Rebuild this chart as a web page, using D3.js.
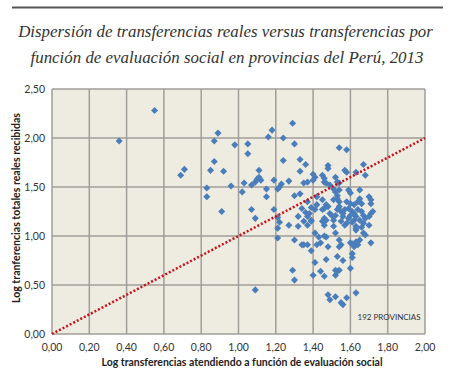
<!DOCTYPE html>
<html>
<head>
<meta charset="utf-8">
<script src="https://cdn.jsdelivr.net/npm/d3@7"></script>
<style>
  body { margin: 0; background: #fff; }
  .tick_label { font-family: Lato, "Open Sans", sans-serif; font-size: 10.5px; fill: #333; }
  .axis_title { font-family: Lato, "Open Sans", sans-serif; font-weight: bold; font-size: 11px; fill: #222; }
  .chart_title { font-family: "Liberation Serif", "DejaVu Serif", serif; font-style: italic; fill: #333; }
</style>
</head>
<body>
<div id="chart"></div>
<script>
// Log transferencias atendiendo a funcion de evaluacion social (x)
var logAtendido = [
  0.36, 0.55, 0.69, 0.71, 0.83, 0.83, 0.85, 0.87, 0.87, 0.89,
  0.91, 0.92, 0.96, 0.98, 1.02, 1.03, 1.05, 1.05, 1.07, 1.07,
  1.09, 1.09, 1.09, 1.10, 1.11, 1.12, 1.11, 1.15, 1.15, 1.16,
  1.18, 1.19, 1.19, 1.21, 1.21, 1.21, 1.24, 1.24, 1.29, 1.30,
  1.22, 1.23, 1.27, 1.27, 1.21, 1.22, 1.30, 1.29, 1.30, 1.33,
  1.36, 1.33, 1.35, 1.37, 1.40, 1.41, 1.40, 1.45, 1.46, 1.46,
  1.47, 1.48, 1.48, 1.49, 1.51, 1.52, 1.53, 1.30, 1.33, 1.37,
  1.42, 1.45, 1.51, 1.53, 1.52, 1.34, 1.36, 1.39, 1.42, 1.45,
  1.49, 1.50, 1.46, 1.47, 1.39, 1.32, 1.32, 1.34, 1.35, 1.37,
  1.39, 1.41, 1.43, 1.44, 1.42, 1.46, 1.47, 1.48, 1.41, 1.47,
  1.40, 1.44, 1.46, 1.52, 1.53, 1.52, 1.48, 1.49, 1.52, 1.55,
  1.56, 1.58, 1.63, 1.54, 1.58, 1.57, 1.58, 1.63, 1.67, 1.68,
  1.54, 1.54, 1.59, 1.60, 1.65, 1.70, 1.71, 1.71, 1.65, 1.64,
  1.66, 1.58, 1.60, 1.62, 1.59, 1.57, 1.61, 1.62, 1.64, 1.66,
  1.67, 1.63, 1.62, 1.60, 1.56, 1.59, 1.65, 1.68, 1.70, 1.71,
  1.72, 1.55, 1.57, 1.61, 1.63, 1.67, 1.70, 1.66, 1.63, 1.67,
  1.68, 1.71, 1.60, 1.61, 1.63, 1.65, 1.64, 1.62, 1.54, 1.55,
  1.61, 1.61, 1.56, 1.54, 1.60, 1.47, 1.46, 1.48, 1.52, 1.51,
  1.41, 1.38, 1.37, 1.35, 1.53, 1.54, 1.54, 1.53, 1.55, 1.56,
  1.52, 1.54, 1.53, 1.37, 1.39, 1.45, 1.46, 1.51, 1.58, 1.63
];

// Log tranferencias totales reales recibidas (y)
var logRecibido = [
  1.97, 2.28, 1.62, 1.68, 1.49, 1.40, 1.67, 1.76, 1.97, 2.05,
  1.25, 1.66, 1.51, 1.93, 1.45, 1.54, 1.94, 1.84, 1.52, 1.27,
  1.18, 0.45, 1.55, 1.58, 1.67, 1.57, 1.60, 1.48, 1.40, 2.01,
  2.08, 1.57, 1.27, 1.08, 0.98, 1.48, 2.00, 1.77, 2.15, 1.94,
  1.50, 1.53, 1.56, 1.11, 1.19, 1.14, 0.96, 0.65, 0.55, 1.78,
  1.73, 1.66, 1.54, 1.55, 1.63, 1.60, 1.57, 1.62, 1.59, 1.55,
  1.54, 1.72, 1.69, 1.52, 1.48, 1.60, 1.55, 1.41, 1.43, 1.35,
  1.40, 1.37, 1.37, 1.38, 1.45, 1.28, 1.24, 1.29, 1.32, 1.27,
  1.23, 1.21, 1.18, 1.16, 1.16, 1.20, 1.10, 0.91, 0.91, 0.91,
  0.85, 1.03, 0.99, 0.93, 0.91, 1.00, 0.99, 0.89, 0.73, 0.76,
  0.60, 0.64, 0.59, 0.65, 0.64, 0.60, 0.40, 0.35, 0.38, 0.32,
  0.30, 0.37, 0.42, 1.90, 1.88, 1.67, 1.65, 1.65, 1.73, 1.62,
  1.54, 1.47, 1.47, 1.44, 1.47, 1.40, 1.37, 1.33, 1.38, 1.35,
  1.33, 1.35, 1.33, 1.32, 1.28, 1.27, 1.25, 1.23, 1.27, 1.25,
  1.21, 1.20, 1.16, 1.21, 1.20, 1.18, 1.16, 1.18, 1.20, 1.23,
  1.25, 1.15, 1.11, 1.14, 1.10, 1.13, 1.11, 1.09, 1.06, 1.03,
  1.01, 0.93, 0.93, 0.92, 0.94, 0.96, 0.91, 0.89, 0.96, 0.91,
  0.82, 0.78, 0.75, 0.65, 0.67, 1.32, 1.28, 1.30, 1.21, 1.16,
  1.27, 1.23, 1.20, 1.15, 1.41, 1.35, 1.30, 1.27, 1.25, 1.23,
  1.03, 0.89, 0.79, 1.11, 1.15, 1.15, 1.11, 1.10, 1.13, 1.08
];

var xTicks = [0, 0.2, 0.4, 0.6, 0.8, 1.0, 1.2, 1.4, 1.6, 1.8, 2.0];
var yTicks = [0, 0.5, 1.0, 1.5, 2.0, 2.5];
var refLine = [0, 2]; // diagonal x = y

var titleLines = [
  'Dispersión de transferencias reales versus transferencias por',
  'función de evaluación social en provincias del Perú, 2013'
];

var width = 450,
  height = 372,
  plot = { left: 52, right: 425, top: 89, bottom: 334 };

var fmt = function (v) {
  return d3.format('.2f')(v).replace('.', ',');
};

// fit a text element to a given width by scaling its font size
function fitText(sel, size, target) {
  sel.style('font-size', size + 'px');
  var len = sel.node().getComputedTextLength();
  var s = size * target / len;
  sel.style('font-size', s + 'px');
  return s;
}

var svg = d3
  .select('#chart')
  .append('svg')
  .attr('width', width)
  .attr('height', height);

// top rule
svg.append('line')
  .attr('x1', 12).attr('x2', 443)
  .attr('y1', 7.5).attr('y2', 7.5)
  .attr('stroke', '#555')
  .attr('stroke-width', 2);

// title
var t1 = svg.append('text')
  .attr('class', 'chart_title')
  .attr('x', 225.5).attr('y', 37)
  .attr('text-anchor', 'middle')
  .text(titleLines[0]);
var titleSize = fitText(t1, 18, 415);
svg.append('text')
  .attr('class', 'chart_title')
  .attr('x', 227).attr('y', 63)
  .attr('text-anchor', 'middle')
  .style('font-size', titleSize + 'px')
  .text(titleLines[1]);

var x = d3.scaleLinear().domain([0, 2]).range([plot.left, plot.right]);
var y = d3.scaleLinear().domain([0, 2.5]).range([plot.bottom, plot.top]);

// plot background
svg.append('rect')
  .attr('x', x(0)).attr('y', y(2.5))
  .attr('width', x(2) - x(0))
  .attr('height', y(0) - y(2.5))
  .attr('fill', '#eeebe0');

// grid
var grid = svg.append('g').attr('stroke', '#a09e9a').attr('stroke-width', 1.5);
grid.selectAll('.vgrid')
  .data(xTicks)
  .enter()
  .append('line')
  .attr('x1', function (d) { return x(d); })
  .attr('x2', function (d) { return x(d); })
  .attr('y1', y(0)).attr('y2', y(2.5));
grid.selectAll('.hgrid')
  .data(yTicks)
  .enter()
  .append('line')
  .attr('x1', x(0)).attr('x2', x(2))
  .attr('y1', function (d) { return y(d); })
  .attr('y2', function (d) { return y(d); });

// tick labels
svg.selectAll('.xlab')
  .data(xTicks)
  .enter()
  .append('text')
  .attr('class', 'tick_label')
  .attr('x', function (d) { return x(d); })
  .attr('y', 351)
  .attr('text-anchor', 'middle')
  .text(fmt);

svg.selectAll('.ylab')
  .data(yTicks)
  .enter()
  .append('text')
  .attr('class', 'tick_label')
  .attr('x', 45)
  .attr('y', function (d) { return y(d) + 3.8; })
  .attr('text-anchor', 'end')
  .text(fmt);

// axis titles (narrowed to the width of the original lettering)
svg.append('text')
  .attr('class', 'axis_title')
  .attr('x', 101.5).attr('y', 366)
  .attr('textLength', 281)
  .attr('lengthAdjust', 'spacingAndGlyphs')
  .text('Log transferencias atendiendo a función de evaluación social');

svg.append('text')
  .attr('class', 'axis_title')
  .attr('transform', 'translate(19.5,303) rotate(-90)')
  .attr('textLength', 190)
  .attr('lengthAdjust', 'spacingAndGlyphs')
  .text('Log tranferencias totales reales recibidas');

// points
var pts = logAtendido.map(function (v, i) {
  return [v, logRecibido[i]];
});
var diamond = d3.symbol().type(d3.symbolSquare).size(25);
svg.append('g')
  .selectAll('path')
  .data(pts)
  .enter()
  .append('path')
  .attr('d', diamond)
  .attr('fill', '#4a7ebb')
  .attr('transform', function (d) {
    return 'translate(' + x(d[0]) + ',' + y(d[1]) + ') rotate(45)';
  });

// red dotted reference line
svg.append('line')
  .attr('x1', x(refLine[0])).attr('y1', y(refLine[0]))
  .attr('x2', x(refLine[1])).attr('y2', y(refLine[1]))
  .attr('stroke', '#c8101a')
  .attr('stroke-width', 2.5)
  .attr('stroke-dasharray', '2,2');

svg.append('text')
  .attr('x', 357.5).attr('y', 320)
  .attr('font-family', 'Lato, sans-serif')
  .attr('font-size', '8px')
  .attr('fill', '#333')
  .text('192 PROVINCIAS');
</script>
</body>
</html>
